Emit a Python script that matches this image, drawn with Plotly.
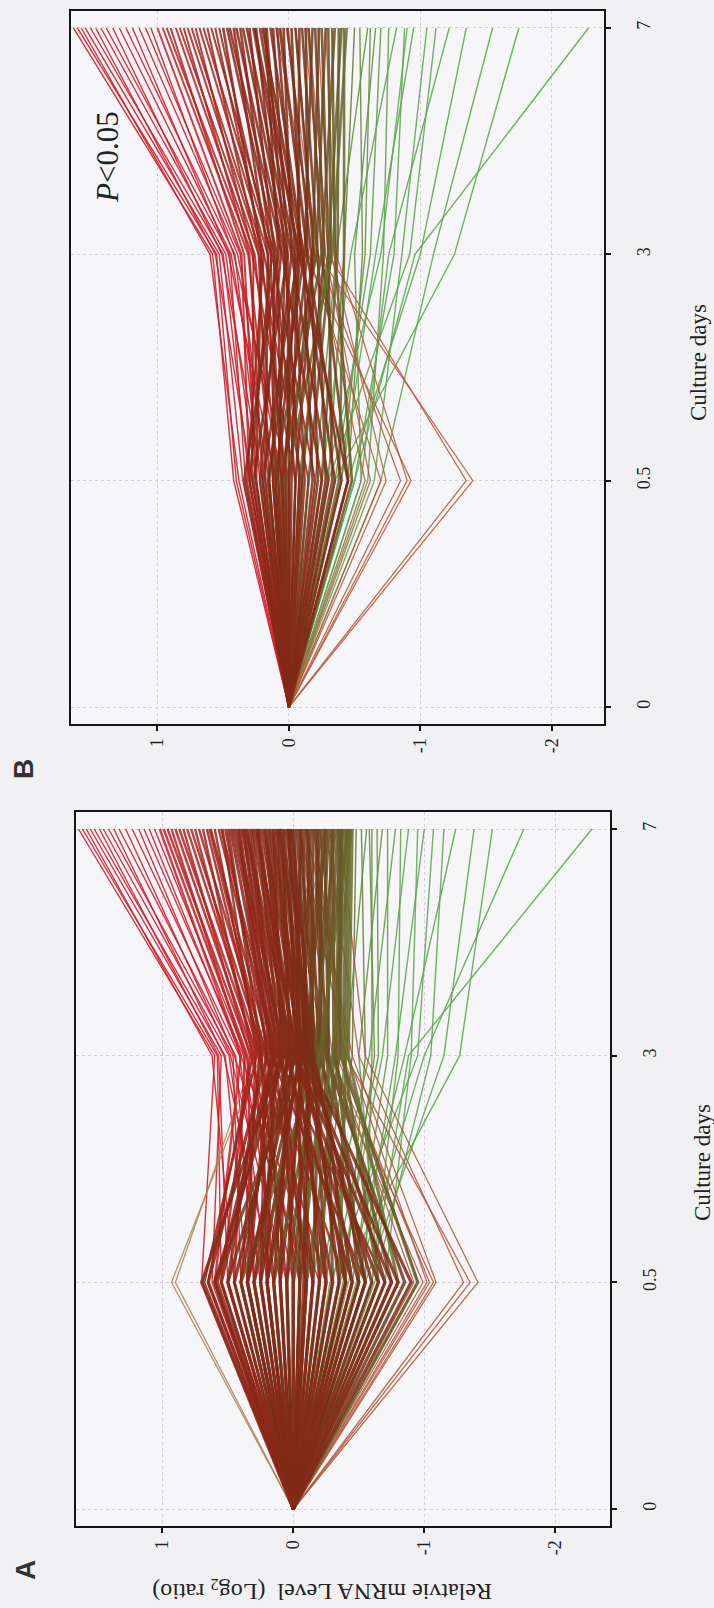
import plotly.graph_objects as go

# ---------------- data (log2 ratio vs day 0; day-0 value is 0 for every gene) ----
days = ["0", "0.5", "3", "7"]
value_ticks = [1, 0, -1, -2]
value_ticktext = ["1", "0", "-1", "-2"]

# Panel B (P<0.05) profiles: (day 0.5, day 3, day 7)
b_up = [(0.42, 0.58, 1.64), (0.40, 0.55, 1.61), (0.38, 0.60, 1.58), (0.35, 0.53, 1.55),
        (0.30, 0.50, 1.51), (0.28, 0.56, 1.47), (0.25, 0.48, 1.43), (0.33, 0.45, 1.39),
        (0.20, 0.51, 1.34), (0.15, 0.44, 1.29), (0.22, 0.41, 1.24), (0.10, 0.46, 1.19),
        (0.05, 0.39, 1.14), (0.18, 0.37, 1.09), (0.00, 0.42, 1.05)]
b_warm = [(0.30, 0.36, 1.00), (0.12, 0.31, 0.96), (-0.05, 0.28, 0.93), (0.25, 0.34, 0.90),
          (0.08, 0.26, 0.86), (-0.10, 0.23, 0.83), (0.20, 0.30, 0.80), (0.02, 0.21, 0.77),
          (-0.15, 0.19, 0.74), (0.28, 0.27, 0.71), (0.10, 0.16, 0.68), (-0.20, 0.13, 0.65),
          (0.15, 0.23, 0.62), (-0.05, 0.11, 0.59), (0.32, 0.19, 0.56), (0.06, 0.14, 0.53)]
b_mid = [(0.25, 0.21, 0.50), (0.05, 0.09, 0.47), (-0.25, 0.05, 0.45), (0.18, 0.16, 0.42),
         (-0.08, 0.03, 0.40), (0.30, 0.13, 0.37), (0.00, 0.01, 0.35), (-0.30, -0.02, 0.32),
         (0.12, 0.11, 0.30), (-0.12, -0.04, 0.27), (0.22, 0.06, 0.25), (-0.02, -0.07, 0.22),
         (-0.35, -0.10, 0.20), (0.08, 0.03, 0.17), (-0.18, -0.11, 0.14), (0.27, 0.01, 0.12),
         (0.03, -0.05, 0.09), (-0.40, -0.14, 0.07), (0.15, -0.02, 0.04), (-0.22, -0.17, 0.01),
         (0.34, 0.08, 0.18), (-0.45, -0.08, 0.26)]
b_low = [(0.10, -0.09, -0.02), (-0.05, -0.19, -0.05), (0.20, -0.07, -0.08), (-0.28, -0.22, -0.10),
         (0.05, -0.14, -0.13), (-0.45, -0.25, -0.15), (0.16, -0.12, -0.18), (-0.10, -0.27, -0.20),
         (0.00, -0.18, -0.23), (-0.33, -0.30, -0.25), (0.12, -0.21, -0.28), (-0.15, -0.32, -0.30),
         (-0.48, -0.35, -0.33), (0.06, -0.25, -0.35), (-0.25, -0.37, -0.38), (-0.08, -0.30, -0.40),
         (-0.38, -0.42, -0.42), (0.02, -0.33, -0.44)]
b_dip = [(-0.58, -0.20, -0.05), (-0.62, -0.28, -0.12), (-0.70, -0.15, 0.06), (-0.74, -0.32, -0.22),
         (-0.85, -0.22, 0.10), (-0.90, -0.36, -0.28), (-0.93, -0.12, 0.20), (-1.35, -0.30, -0.15),
         (-1.40, -0.22, 0.02)]
b_green = [(-0.30, -0.42, -0.50), (-0.45, -0.56, -0.54), (-0.20, -0.36, -0.60), (-0.55, -0.50, -0.66),
           (-0.35, -0.62, -0.70), (-0.60, -0.72, -0.76), (-0.25, -0.47, -0.82), (-0.50, -0.80, -0.88),
           (-0.40, -0.66, -0.95), (-0.65, -0.86, -1.05), (-0.30, -0.92, -1.12), (-0.55, -0.76, -1.22),
           (-0.45, -1.00, -1.35), (-0.70, -1.10, -1.55), (-0.35, -1.26, -1.75), (-0.50, -0.96, -2.28),
           (-0.40, -0.58, -0.62), (-0.28, -0.70, -0.90)]

# Panel A (all genes) profiles: (day 0.5, day 3, day 7)
a_peak = [(0.93, 0.25, -0.30), (0.90, 0.30, -0.25)]
a_up = [(0.70, 0.60, 1.64), (0.55, 0.58, 1.61), (0.45, 0.62, 1.58), (0.62, 0.55, 1.55),
        (0.35, 0.52, 1.52), (0.50, 0.57, 1.48), (0.25, 0.49, 1.45), (0.40, 0.46, 1.41),
        (0.15, 0.53, 1.37), (0.30, 0.44, 1.33), (0.05, 0.48, 1.28), (0.20, 0.41, 1.23),
        (-0.10, 0.45, 1.18), (0.10, 0.38, 1.14), (-0.20, 0.40, 1.10), (0.00, 0.36, 1.06)]
a_warm = [(0.60, 0.40, 1.02), (0.30, 0.35, 0.99), (-0.05, 0.32, 0.96), (0.45, 0.37, 0.93),
          (0.15, 0.30, 0.90), (-0.25, 0.27, 0.87), (0.55, 0.33, 0.84), (0.05, 0.25, 0.81),
          (-0.40, 0.22, 0.78), (0.35, 0.29, 0.75), (-0.15, 0.20, 0.72), (0.65, 0.31, 0.69),
          (0.20, 0.24, 0.66), (-0.55, 0.17, 0.63), (0.40, 0.26, 0.60), (-0.05, 0.14, 0.57),
          (0.68, 0.28, 0.54), (0.10, 0.19, 0.52), (-0.70, 0.12, 0.55), (0.25, 0.21, 0.64)]
a_mid = [(0.50, 0.24, 0.50), (0.20, 0.15, 0.48), (-0.10, 0.10, 0.46), (-0.45, 0.06, 0.44),
         (0.65, 0.20, 0.42), (0.35, 0.17, 0.41), (0.00, 0.08, 0.39), (-0.30, 0.04, 0.37),
         (-0.65, 0.00, 0.36), (0.55, 0.14, 0.34), (0.25, 0.12, 0.32), (-0.15, 0.02, 0.31),
         (-0.50, -0.03, 0.29), (0.40, 0.10, 0.27), (0.10, 0.05, 0.26), (-0.25, -0.02, 0.24),
         (-0.80, -0.06, 0.22), (0.60, 0.07, 0.21), (0.30, 0.04, 0.19), (-0.05, -0.05, 0.18),
         (-0.40, -0.08, 0.16), (0.70, 0.09, 0.15), (0.15, 0.01, 0.13), (-0.20, -0.09, 0.11),
         (-0.60, -0.12, 0.10), (0.45, 0.03, 0.08), (0.05, -0.06, 0.07), (-0.35, -0.13, 0.05),
         (-0.90, -0.10, 0.04), (0.35, -0.01, 0.03), (-0.08, -0.11, 0.02), (-0.55, -0.15, 0.01),
         (0.20, -0.04, 0.12), (-0.75, -0.02, 0.28), (0.58, 0.16, 0.38)]
a_low = [(0.25, -0.05, -0.01), (-0.10, -0.12, -0.03), (-0.45, -0.17, -0.05), (0.50, -0.02, -0.06),
         (0.10, -0.09, -0.08), (-0.25, -0.16, -0.10), (-0.70, -0.20, -0.11), (0.35, -0.07, -0.13),
         (0.00, -0.14, -0.15), (-0.40, -0.22, -0.17), (-0.85, -0.25, -0.18), (0.20, -0.12, -0.20),
         (-0.15, -0.20, -0.22), (-0.55, -0.27, -0.24), (0.60, -0.09, -0.25), (0.05, -0.18, -0.27),
         (-0.30, -0.26, -0.29), (-0.75, -0.31, -0.30), (0.30, -0.16, -0.32), (-0.05, -0.24, -0.34),
         (-0.50, -0.33, -0.35), (-0.95, -0.36, -0.37), (0.15, -0.22, -0.38), (-0.20, -0.31, -0.40),
         (-0.65, -0.38, -0.41), (0.40, -0.20, -0.42), (-0.35, -0.40, -0.43), (0.00, -0.30, -0.44),
         (-0.80, -0.42, -0.45), (-0.10, -0.35, -0.36)]
a_dip = [(-0.92, -0.30, -0.05), (-0.95, -0.38, -0.20), (-0.99, -0.25, 0.10), (-1.02, -0.42, -0.15),
         (-1.04, -0.33, -0.30), (-1.07, -0.28, 0.05), (-1.09, -0.45, -0.10), (-1.30, -0.50, -0.25),
         (-1.35, -0.40, -0.05), (-1.41, -0.55, -0.35)]
a_green = [(-0.25, -0.45, -0.48), (-0.40, -0.55, -0.52), (-0.15, -0.40, -0.56), (-0.55, -0.60, -0.60),
           (-0.30, -0.65, -0.64), (-0.65, -0.50, -0.68), (-0.45, -0.72, -0.72), (-0.20, -0.58, -0.78),
           (-0.60, -0.80, -0.82), (-0.35, -0.68, -0.88), (-0.70, -0.90, -0.95), (-0.50, -0.78, -1.00),
           (-0.28, -0.95, -1.07), (-0.62, -1.05, -1.15), (-0.42, -0.85, -1.24), (-0.55, -1.15, -1.38),
           (-0.35, -1.27, -1.52), (-0.48, -1.00, -1.76), (-0.60, -0.88, -2.28), (-0.38, -0.62, -0.58)]

BASE = 0.0  # day-0 reference value

# ---------------- styling helpers ----------------
STOPS = [(-0.85, (98, 168, 84)), (-0.55, (104, 140, 62)), (-0.40, (102, 96, 40)),
         (-0.20, (112, 62, 26)), (0.0, (124, 44, 22)), (0.5, (146, 38, 24)),
         (0.9, (186, 34, 32)), (1.1, (212, 30, 44))]


def line_color(v):
    if v <= STOPS[0][0]:
        c = STOPS[0][1]
    elif v >= STOPS[-1][0]:
        c = STOPS[-1][1]
    else:
        for (v0, c0), (v1, c1) in zip(STOPS[:-1], STOPS[1:]):
            if v0 <= v <= v1:
                t = (v - v0) / (v1 - v0)
                c = tuple(int(round(a + (b - a) * t)) for a, b in zip(c0, c1))
                break
    return "rgb(%d,%d,%d)" % c


fig = go.Figure()


def add_group(profiles, xa, ya, width=1.4, opacity=0.85, color=None):
    for d05, d3, d7 in profiles:
        fig.add_trace(go.Scatter(
            x=[BASE, d05, d3, d7], y=days, mode="lines",
            line=dict(color=color or line_color(d7), width=width),
            opacity=opacity, xaxis=xa, yaxis=ya,
            showlegend=False, hoverinfo="skip"))


# panel A -> x/y (bottom), panel B -> x2/y2 (top)
add_group(a_up, "x", "y", 1.4, 0.9)
add_group(a_green, "x", "y", 1.4, 0.9)
add_group(a_peak, "x", "y", 1.3, 0.85, "rgb(170,130,80)")
add_group(a_dip, "x", "y", 1.3, 0.85, "rgb(176,84,56)")
add_group(a_warm, "x", "y", 2.4, 0.85)
add_group(a_low, "x", "y", 3.2, 0.85)
add_group(a_mid, "x", "y", 3.2, 0.85)

add_group(b_up, "x2", "y2", 1.4, 0.9)
add_group(b_green, "x2", "y2", 1.4, 0.9)
add_group(b_dip, "x2", "y2", 1.3, 0.85, "rgb(180,90,60)")
add_group(b_warm, "x2", "y2", 2.0, 0.85)
add_group(b_low, "x2", "y2", 2.6, 0.85)
add_group(b_mid, "x2", "y2", 2.6, 0.85)

W, H = 714, 1608
SERIF = "Liberation Serif"
GRID = "#d9cadb"


def val_axis(domain, rng, anchor):
    return dict(domain=domain, range=rng, anchor=anchor,
                tickvals=value_ticks, ticktext=value_ticktext, tickangle=-90,
                showgrid=True, gridcolor=GRID, gridwidth=1, griddash="dot",
                zeroline=False, showline=True, mirror=True, linecolor="#151515", linewidth=2,
                ticks="outside", ticklen=5, tickwidth=2, tickcolor="#151515",
                ticklabelstandoff=0,
                tickfont=dict(family=SERIF, size=18, color="#222"))


def day_axis(domain, anchor):
    return dict(domain=domain, anchor=anchor, type="category", categoryarray=days,
                range=[-0.075, 3.075], side="right", tickangle=-90,
                showgrid=True, gridcolor=GRID, gridwidth=1, griddash="dot",
                zeroline=False, showline=True, mirror=True, linecolor="#151515", linewidth=2,
                ticks="outside", ticklen=5, tickwidth=2, tickcolor="#151515",
                ticklabelstandoff=17,
                tickfont=dict(family=SERIF, size=18, color="#222"))


fig.update_layout(
    width=W, height=H, autosize=False,
    margin=dict(l=0, r=0, t=0, b=0),
    paper_bgcolor="#f1f1f4", plot_bgcolor="#f6f6f8",
    xaxis=val_axis([76 / W, 610 / W], [1.659, -2.418], "y"),
    yaxis=day_axis([1 - 1526 / H, 1 - 812 / H], "x"),
    xaxis2=val_axis([71 / W, 604 / W], [1.658, -2.398], "y2"),
    yaxis2=day_axis([1 - 724 / H, 1 - 11 / H], "x2"),
)


def px_ann(text, x, y, angle, size, family=SERIF, color="#222"):
    fig.add_annotation(text=text, x=x / W, y=1 - y / H, xref="paper", yref="paper",
                       showarrow=False, textangle=angle, xanchor="center", yanchor="middle",
                       font=dict(family=family, size=size, color=color))


px_ann("<b>B</b>", 23, 769, -90, 28, family="Liberation Sans", color="#333")
px_ann("<b>A</b>", 25, 1570, -90, 28, family="Liberation Sans", color="#333")
px_ann("Culture days", 698, 363, -90, 23)
px_ann("Culture days", 702, 1163, -90, 23)
px_ann("Relatvie mRNA Level  (Log<sub>2</sub> ratio)", 322, 1590, 180, 24)
px_ann("<i>P</i>&lt;0.05", 108, 157, -90, 31)

fig.write_html("out.html")
